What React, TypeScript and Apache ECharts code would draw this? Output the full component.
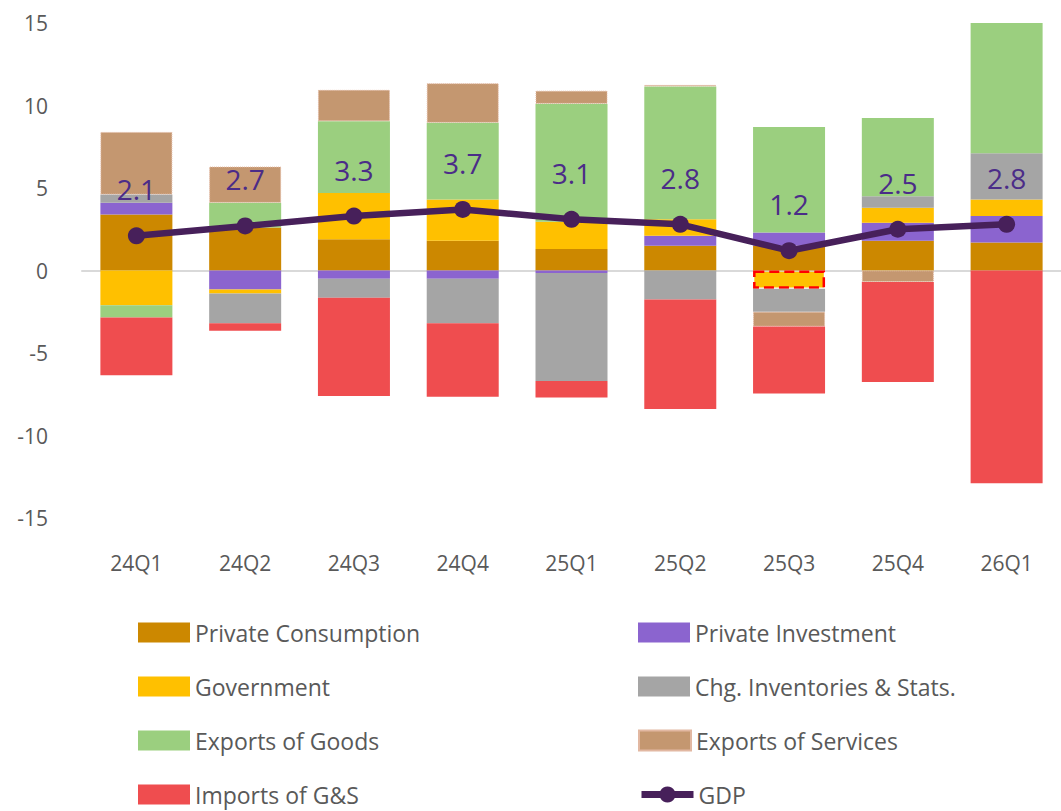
import React, { useEffect, useRef } from "react";
import * as echarts from "echarts";

const quarters = ["24Q1", "24Q2", "24Q3", "24Q4", "25Q1", "25Q2", "25Q3", "25Q4", "26Q1"];
const privateConsumption = [3.4, 2.6, 1.9, 1.8, 1.3, 1.5, 1.5, 1.8, 1.7];
const privateInvestment = [0.7, -1.15, -0.5, -0.5, -0.15, 0.6, 0.8, 1.1, 1.6];
const government = [-2.1, -0.25, 2.8, 2.5, 1.65, 1.0, -1.1, 0.9, 1.0];
const chgInventories = [0.5, -1.8, -1.15, -2.7, -6.55, -1.75, -1.4, 0.7, 2.8];
const exportsGoods = [-0.75, 1.5, 4.35, 4.65, 7.15, 8.05, 6.4, 4.75, 7.95];
const exportsServices = [3.8, 2.2, 1.9, 2.4, 0.8, 0.1, -0.9, -0.7, 0];
const importsGS = [-3.5, -0.45, -5.95, -4.45, -1.0, -6.65, -4.05, -6.05, -12.9];
const gdp = [2.1, 2.7, 3.3, 3.7, 3.1, 2.8, 1.2, 2.5, 2.8];
const yTicks = { min: -15, max: 15, interval: 5 };
const highlightedGovIndex = 6;
const legendLeftColumn = ["Private Consumption", "Government", "Exports of Goods", "Imports of G&S"];
const legendRightColumn = ["Private Investment", "Chg. Inventories & Stats.", "Exports of Services", "GDP"];

const FONT = "'Open Sans', 'Noto Sans', sans-serif";

export default function App() {
  const ref = useRef<HTMLDivElement>(null);
  useEffect(() => {
    if (!ref.current) return;
    const chart = echarts.init(ref.current, undefined, { renderer: "svg" });
    const barBase = (name: string, data: any[], color: string, extra: any = {}) => ({
      name,
      type: "bar",
      stack: "total",
      data,
      barWidth: 72,
      itemStyle: { color, ...extra },
      emphasis: { disabled: true },
    });
    const govData = government.map((v, i) =>
      i === highlightedGovIndex
        ? { value: v, itemStyle: { borderColor: "#FF0000", borderType: "dashed", borderWidth: 2.5 } }
        : v
    );
    const makeLegend = (name: string, left: number, row: number) => ({
      orient: "horizontal",
      left,
      top: 621 + row * 54,
      padding: 0,
      itemWidth: 52,
      itemHeight: 20,
      selectedMode: false,
      textStyle: { color: "#595959", fontSize: 23, fontFamily: FONT, lineHeight: 20 },
      data: [name === "GDP" ? { name, lineStyle: { width: 7 } } : { name, icon: "rect" }],
    });
    const legends = [
      ...legendLeftColumn.map((n, i) => makeLegend(n, 138, i)),
      ...legendRightColumn.map((n, i) => makeLegend(n, 638, i)),
    ];
    chart.setOption({
      animation: false,
      textStyle: { fontFamily: FONT },
      grid: { left: 82, top: 23, width: 983, height: 495 },
      xAxis: {
        type: "category",
        data: quarters,
        axisLine: { onZero: true, lineStyle: { color: "#D9D9D9", width: 2 } },
        axisTick: { show: false },
        axisLabel: { color: "#595959", fontSize: 21, fontFamily: FONT, margin: 34 },
        splitLine: { show: false },
      },
      yAxis: {
        type: "value",
        min: yTicks.min,
        max: yTicks.max,
        interval: yTicks.interval,
        axisLine: { show: false },
        axisTick: { show: false },
        splitLine: { show: false },
        axisLabel: { color: "#595959", fontSize: 21, fontFamily: FONT, margin: 34 },
      },
      legend: legends,
      series: [
        barBase("Private Consumption", privateConsumption, "#CC8800"),
        barBase("Private Investment", privateInvestment, "#8B64CF"),
        barBase("Government", govData, "#FFC000"),
        barBase("Chg. Inventories & Stats.", chgInventories, "#A5A5A5"),
        barBase("Exports of Goods", exportsGoods, "#9BCF7F"),
        barBase("Exports of Services", exportsServices, "#C49770", {
          borderColor: "#E2B8A2",
          borderType: "dotted",
          borderWidth: 1,
        }),
        barBase("Imports of G&S", importsGS, "#EF4D4F"),
        {
          name: "GDP",
          type: "line",
          data: gdp,
          z: 10,
          symbol: "circle",
          symbolSize: 17,
          lineStyle: { color: "#47205A", width: 6.5 },
          itemStyle: { color: "#47205A" },
          emphasis: { disabled: true },
          label: {
            show: true,
            position: "top",
            distance: 24,
            color: "#4B2C88",
            fontSize: 28,
            fontFamily: FONT,
            formatter: (p: any) => p.value.toFixed(1),
          },
        },
      ],
    });
    return () => chart.dispose();
  }, []);
  return (
    <div
      ref={ref}
      style={{ position: "absolute", left: 0, top: 0, width: 1061, height: 811, background: "#fff" }}
    />
  );
}
